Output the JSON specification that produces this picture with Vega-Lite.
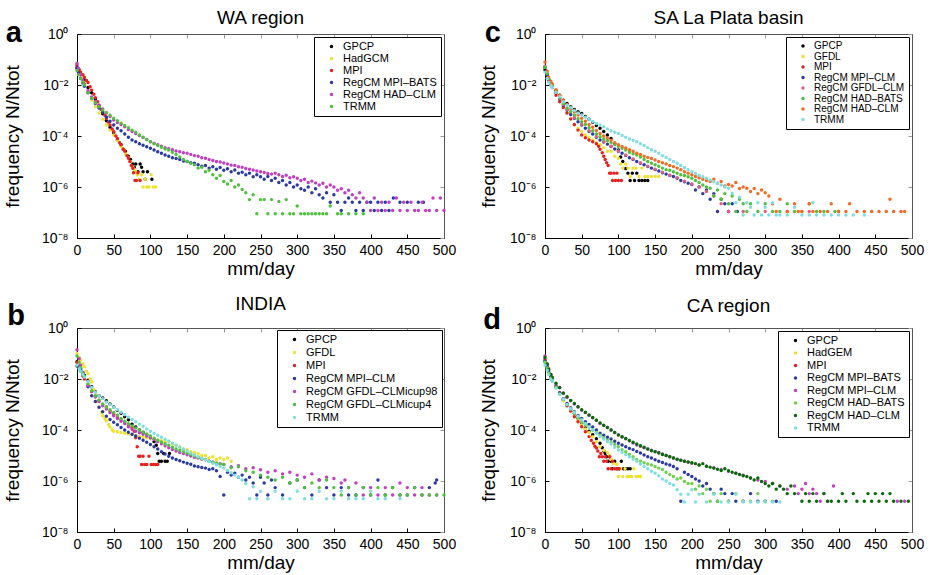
{
"$schema": "https://vega.github.io/schema/vega-lite/v6.json",
"background": "white",
"padding": {"left": 3, "top": 8, "right": 3, "bottom": 2},
"columns": 2,
"spacing": {"row": 16, "column": 23},
"resolve": {"scale": {"color": "independent"}},
"config": {
  "font": "Liberation Sans",
  "view": {"stroke": null},
  "axis": {"labelFont": "Liberation Sans", "titleFont": "Liberation Sans", "labelFontSize": 14, "titleFontSize": 19, "titleFontWeight": "normal", "labelColor": "#000", "titleColor": "#000", "domainColor": "#000", "tickColor": "#000", "tickSize": -4, "grid": false, "labelFlush": false},
  "axisX": {"labelPadding": 9, "titlePadding": 2},
  "axisY": {"labelPadding": 13},
  "text": {"font": "Liberation Sans", "color": "#000"},
  "legend": {"labelFont": "Liberation Sans", "labelFontSize": 11, "labelColor": "#000", "strokeColor": "#000", "fillColor": "#fff", "padding": 4, "symbolType": "circle", "symbolSize": 12, "symbolStrokeWidth": 0, "labelOffset": 6, "rowPadding": 0, "offset": 3, "symbolOffset": 8, "orient": "top-right", "title": null}
},
"concat": [
{
 "width": 367, "height": 204,
 "data": {"values": "s,x,y\nG,0,4.5e-2\nG,2,3.5e-2\nG,5,2.5e-2\nG,10,1.6e-2\nG,15,8e-3\nG,20,5e-3\nG,25,2.8e-3\nG,30,1.5e-3\nG,35,7.5e-4\nG,40,4e-4\nG,45,2.2e-4\nG,50,1.3e-4\nG,55,7e-5\nG,60,4.5e-5\nG,63,3e-5\nG,66,2.5e-5\nG,70,1.6e-5\nG,73,1.2e-5\nG,76,8e-6\nG,78,6e-6\nG,80,8e-6\nG,83,4e-6\nG,86,8e-6\nG,88,6e-6\nG,90,4e-6\nG,93,2e-6\nG,96,4e-6\nG,102,2e-6\nH,0,7e-2\nH,3,4e-2\nH,6,2.5e-2\nH,10,1.2e-2\nH,15,5.5e-3\nH,20,2.6e-3\nH,25,1.4e-3\nH,30,8e-4\nH,35,4.5e-4\nH,40,2.7e-4\nH,45,1.7e-4\nH,50,1.1e-4\nH,55,6.5e-5\nH,60,4e-5\nH,63,3e-5\nH,66,2e-5\nH,70,1.4e-5\nH,73,1e-5\nH,76,6e-6\nH,78,5e-6\nH,80,4e-6\nH,82,3e-6\nH,85,2e-6\nH,88,3e-6\nH,90,1e-6\nH,93,2e-6\nH,95,1e-6\nH,98,1e-6\nH,101,3e-6\nH,104,1e-6\nH,107,1e-6\nM,0,6e-2\nM,3,4e-2\nM,5,3.2e-2\nM,8,2.5e-2\nM,10,2e-2\nM,13,1.5e-2\nM,15,1.25e-2\nM,18,8.5e-3\nM,20,6.3e-3\nM,23,4.3e-3\nM,25,3.2e-3\nM,28,2.2e-3\nM,30,1.6e-3\nM,33,1.1e-3\nM,35,9e-4\nM,38,6.5e-4\nM,40,5e-4\nM,43,3.5e-4\nM,45,2.7e-4\nM,48,1.9e-4\nM,50,1.5e-4\nM,53,1e-4\nM,55,8e-5\nM,58,5.5e-5\nM,60,4.5e-5\nM,63,3e-5\nM,65,2.5e-5\nM,68,1.7e-5\nM,70,1.35e-5\nM,72,1e-5\nM,74,7e-6\nM,76,5.4e-6\nM,77,3.6e-6\nM,79,1.8e-6\nM,81,1.8e-6\nM,83,3.6e-6\nM,86,1.8e-6\nB,0,5e-2\nB,2,3e-2\nB,5,1.8e-2\nB,8,1.2e-2\nB,10,9e-3\nB,15,5e-3\nB,20,3e-3\nB,25,1.9e-3\nB,30,1.25e-3\nB,35,8.5e-4\nB,40,5.6e-4\nB,45,3.8e-4\nB,50,2.7e-4\nB,55,2e-4\nB,60,1.6e-4\nB,65,1.2e-4\nB,70,9e-5\nB,75,7e-5\nB,80,6e-5\nB,85,5e-5\nB,90,4.3e-5\nB,95,3.8e-5\nB,100,3.3e-5\nB,105,2.8e-5\nB,110,2.4e-5\nB,115,2.1e-5\nB,120,1.8e-5\nB,125,1.6e-5\nB,130,1.4e-5\nB,135,1.3e-5\nB,140,1.2e-5\nB,145,1.05e-5\nB,150,1e-5\nB,155,9e-6\nB,160,8.5e-6\nB,165,7.5e-6\nB,170,6.5e-6\nB,175,7e-6\nB,180,5.5e-6\nB,185,6.2e-6\nB,190,5e-6\nB,195,5.8e-6\nB,200,4.5e-6\nB,205,5.2e-6\nB,210,4e-6\nB,215,4.6e-6\nB,220,3.5e-6\nB,225,3.8e-6\nB,230,3e-6\nB,235,3.5e-6\nB,240,2.5e-6\nB,245,3e-6\nB,250,2.5e-6\nB,255,2e-6\nB,260,2.6e-6\nB,265,1.8e-6\nB,270,2.2e-6\nB,275,1.5e-6\nB,280,1.8e-6\nB,285,1.2e-6\nB,290,1.5e-6\nB,295,1e-6\nB,300,1.2e-6\nB,305,8.6e-7\nB,310,7.4e-7\nB,315,1e-6\nB,320,6e-7\nB,325,8.6e-7\nB,330,5e-7\nB,335,3.7e-7\nB,340,6e-7\nB,345,2.5e-7\nB,350,5e-7\nB,355,2.5e-7\nB,360,1.2e-7\nB,365,2.5e-7\nB,370,3.7e-7\nB,375,2.5e-7\nB,380,1.2e-7\nB,385,2.5e-7\nB,390,1.2e-7\nB,395,2.5e-7\nB,400,2.5e-7\nB,405,1.2e-7\nB,410,2.5e-7\nB,415,1.2e-7\nB,420,2.5e-7\nB,425,1.2e-7\nB,431,3.7e-7\nB,440,2.5e-7\nB,450,2.5e-7\nB,465,2.5e-7\nB,472,2.5e-7\nC,0,7e-2\nC,2,4.5e-2\nC,5,2.5e-2\nC,8,1.5e-2\nC,10,1.1e-2\nC,15,6e-3\nC,20,3.4e-3\nC,25,2.3e-3\nC,30,1.6e-3\nC,35,1.15e-3\nC,40,8e-4\nC,45,5.8e-4\nC,50,4.2e-4\nC,55,3.4e-4\nC,60,2.8e-4\nC,65,2.3e-4\nC,70,1.8e-4\nC,75,1.5e-4\nC,80,1.25e-4\nC,85,1.05e-4\nC,90,8.7e-5\nC,95,7.3e-5\nC,100,6e-5\nC,105,5.2e-5\nC,110,4.5e-5\nC,115,4e-5\nC,120,3.5e-5\nC,125,3.2e-5\nC,130,2.9e-5\nC,135,2.6e-5\nC,140,2.4e-5\nC,145,2.2e-5\nC,150,2.1e-5\nC,155,1.9e-5\nC,160,1.7e-5\nC,165,1.6e-5\nC,170,1.4e-5\nC,175,1.35e-5\nC,180,1.2e-5\nC,185,1.1e-5\nC,190,1e-5\nC,195,9.5e-6\nC,200,8.7e-6\nC,205,8e-6\nC,210,7.2e-6\nC,215,7e-6\nC,220,6.2e-6\nC,225,5.9e-6\nC,230,5.3e-6\nC,235,5e-6\nC,240,4.6e-6\nC,245,4.2e-6\nC,250,4e-6\nC,255,3.7e-6\nC,260,3.4e-6\nC,265,3.2e-6\nC,270,3.5e-6\nC,275,3e-6\nC,280,2.6e-6\nC,285,2.9e-6\nC,290,2.3e-6\nC,295,2.5e-6\nC,300,2.2e-6\nC,305,1.8e-6\nC,310,2e-6\nC,315,1.5e-6\nC,320,1.7e-6\nC,325,1.45e-6\nC,330,1.2e-6\nC,335,1.4e-6\nC,340,1e-6\nC,345,1.2e-6\nC,350,1e-6\nC,355,7.4e-7\nC,360,8.6e-7\nC,365,6e-7\nC,370,7.4e-7\nC,375,5e-7\nC,380,3.7e-7\nC,385,6e-7\nC,390,3.7e-7\nC,395,2.5e-7\nC,400,1.2e-7\nC,405,3.7e-7\nC,410,1.2e-7\nC,415,2.5e-7\nC,420,1.2e-7\nC,425,2.5e-7\nC,430,1.2e-7\nC,435,3.7e-7\nC,440,1.2e-7\nC,445,2.5e-7\nC,450,1.2e-7\nC,455,2.5e-7\nC,460,1.2e-7\nC,465,1.2e-7\nC,470,2.5e-7\nC,475,1.2e-7\nC,480,1.2e-7\nC,485,3.7e-7\nC,490,1.2e-7\nC,495,3.7e-7\nC,500,1.2e-7\nT,0,3.7e-2\nT,2,2.5e-2\nT,5,1.8e-2\nT,8,1.3e-2\nT,10,1e-2\nT,15,5e-3\nT,20,3e-3\nT,25,2e-3\nT,30,1.4e-3\nT,35,1.05e-3\nT,40,8.3e-4\nT,45,6.5e-4\nT,50,5e-4\nT,55,4e-4\nT,60,3.2e-4\nT,65,2.6e-4\nT,70,2.1e-4\nT,75,1.7e-4\nT,80,1.4e-4\nT,85,1.1e-4\nT,90,9e-5\nT,95,7.3e-5\nT,100,6e-5\nT,105,5e-5\nT,110,4.2e-5\nT,115,3.6e-5\nT,120,3.1e-5\nT,125,2.8e-5\nT,130,2.3e-5\nT,135,1.9e-5\nT,140,1.5e-5\nT,145,1.2e-5\nT,150,1e-5\nT,155,8.5e-6\nT,160,7.5e-6\nT,165,5.5e-6\nT,170,6e-6\nT,175,4e-6\nT,180,4.5e-6\nT,185,3e-6\nT,190,2.2e-6\nT,195,2.8e-6\nT,200,1.65e-6\nT,205,1.3e-6\nT,210,1.8e-6\nT,215,1e-6\nT,220,1.2e-6\nT,225,8e-7\nT,230,6e-7\nT,235,3.2e-7\nT,240,5e-7\nT,245,9e-8\nT,250,3.2e-7\nT,255,3.2e-7\nT,260,9e-8\nT,265,3.2e-7\nT,270,9e-8\nT,275,2.7e-7\nT,280,9e-8\nT,285,3.2e-7\nT,290,9e-8\nT,295,9e-8\nT,300,1.8e-7\nT,305,9e-8\nT,310,9e-8\nT,315,9e-8\nT,320,9e-8\nT,325,9e-8\nT,330,9e-8\nT,335,9e-8\nT,340,9e-8\nT,345,1.8e-7\nT,355,9e-8\nT,360,9e-8\nT,370,9e-8\nT,380,9e-8\nT,390,9e-8", "format": {"type": "csv", "parse": {"x": "number", "y": "number"}}},
 "layer": [
  {"transform": [{"lookup": "s", "from": {"data": {"values": [{"s": "G", "n": "GPCP"}, {"s": "H", "n": "HadGCM"}, {"s": "M", "n": "MPI"}, {"s": "B", "n": "RegCM MPI–BATS"}, {"s": "C", "n": "RegCM HAD–CLM"}, {"s": "T", "n": "TRMM"}]}, "key": "s", "fields": ["n"]}}],
   "mark": {"type": "circle", "size": 12, "opacity": 1},
   "encoding": {
    "x": {"field": "x", "type": "quantitative", "scale": {"domain": [0, 500], "nice": false}, "axis": {"values": [0,50,100,150,200,250,300,350,400,450,500], "title": "mm/day"}},
    "y": {"field": "y", "type": "quantitative", "scale": {"type": "log", "domain": [1e-8, 1], "nice": false}, "axis": {"values": [1, 0.01, 0.0001, 0.000001, 0.00000001], "labelExpr": "datum.value >= 0.5 ? '10⁰' : datum.value >= 0.005 ? '10⁻²' : datum.value >= 0.00005 ? '10⁻⁴' : datum.value >= 0.0000005 ? '10⁻⁶' : '10⁻⁸'", "title": "frequency N/Ntot", "titlePadding": 19}},
    "color": {"field": "n", "type": "nominal", "scale": {"domain": ["GPCP", "HadGCM", "MPI", "RegCM MPI–BATS", "RegCM HAD–CLM", "TRMM"], "range": ["#000000", "#f0e030", "#e82020", "#2a3aa0", "#c040c0", "#50c040"]}, "legend": {"rowPadding": 0}}
   }},
  {"transform": [{"filter": "datum.x == 0"}],
   "mark": {"type": "point", "opacity": 0},
   "encoding": {
    "x": {"field": "x", "type": "quantitative", "axis": {"orient": "top", "labels": false, "title": null, "values": [0,50,100,150,200,250,300,350,400,450,500], "domainColor": "#555", "tickColor": "#999"}},
    "y": {"field": "y", "type": "quantitative", "axis": {"orient": "right", "labels": false, "title": null, "values": [1, 0.01, 0.0001, 0.000001, 0.00000001], "domainColor": "#555", "tickColor": "#999"}}
   }},
  {"data": {"values": [{"t": "a"}]},
   "mark": {"type": "text", "fontSize": 29, "fontWeight": "bold", "align": "center", "baseline": "alphabetic"},
   "encoding": {"text": {"field": "t"}, "x": {"datum": -86, "axis": null}, "y": {"datum": 0.49, "axis": null}}},
  {"data": {"values": [{"t": "WA region"}]},
   "mark": {"type": "text", "fontSize": 19, "align": "center", "baseline": "alphabetic"},
   "encoding": {"text": {"field": "t"}, "x": {"datum": 250, "axis": null}, "y": {"datum": 2.47, "axis": null}}}
 ],
 "resolve": {"axis": {"x": "independent", "y": "independent"}}
},
{
 "width": 367, "height": 204,
 "data": {"values": "s,x,y\nG,0,4e-2\nG,3,2.4e-2\nG,5,1.6e-2\nG,8,1.1e-2\nG,10,9e-3\nG,15,6e-3\nG,20,4e-3\nG,25,2.5e-3\nG,30,1.9e-3\nG,35,1.4e-3\nG,40,1.1e-3\nG,45,9e-4\nG,50,7.6e-4\nG,55,5.8e-4\nG,60,4.5e-4\nG,65,3.5e-4\nG,70,2.6e-4\nG,75,2e-4\nG,80,1.5e-4\nG,85,1.1e-4\nG,90,8e-5\nG,95,5e-5\nG,100,2.8e-5\nG,103,1.5e-5\nG,106,1e-5\nG,110,5.3e-6\nG,113,3.5e-6\nG,116,1.8e-6\nG,119,3.5e-6\nG,122,1.8e-6\nG,125,3.5e-6\nG,128,1.8e-6\nG,132,1.8e-6\nG,136,1.8e-6\nG,140,1.8e-6\nF,0,5e-2\nF,3,2.6e-2\nF,5,1.6e-2\nF,8,1.1e-2\nF,10,8e-3\nF,15,4.5e-3\nF,20,2.5e-3\nF,25,1.4e-3\nF,30,8e-4\nF,35,4.5e-4\nF,40,2.7e-4\nF,45,2e-4\nF,50,1.5e-4\nF,55,1.1e-4\nF,60,9e-5\nF,65,7e-5\nF,70,5.5e-5\nF,75,4.5e-5\nF,80,3.5e-5\nF,85,2.5e-5\nF,90,2.5e-5\nF,95,1.6e-5\nF,100,1.35e-5\nF,103,8e-6\nF,106,5.5e-6\nF,110,8e-6\nF,113,5.5e-6\nF,116,2.6e-6\nF,120,5.5e-6\nF,124,5.5e-6\nF,128,2.6e-6\nF,132,5.5e-6\nF,136,2.6e-6\nF,140,2.6e-6\nF,145,2.6e-6\nF,150,2.6e-6\nF,155,2.6e-6\nM,0,5e-2\nM,3,2.5e-2\nM,5,1.5e-2\nM,8,1e-2\nM,10,8e-3\nM,15,4e-3\nM,20,2.2e-3\nM,25,1.3e-3\nM,30,8e-4\nM,35,4.7e-4\nM,40,2.8e-4\nM,45,1.7e-4\nM,50,1.1e-4\nM,55,8.5e-5\nM,60,7e-5\nM,65,6e-5\nM,70,5e-5\nM,73,4e-5\nM,75,3e-5\nM,78,2.2e-5\nM,80,1.6e-5\nM,82,1.2e-5\nM,84,9e-6\nM,86,7e-6\nM,88,3.5e-6\nM,90,3.5e-6\nM,92,1.8e-6\nM,94,3.5e-6\nM,96,1.8e-6\nM,98,3.5e-6\nM,100,1.8e-6\nM,104,1.8e-6\nB,0,5e-2\nB,3,2.6e-2\nB,5,1.6e-2\nB,8,1.1e-2\nB,10,9e-3\nB,15,5e-3\nB,20,2.8e-3\nB,25,1.6e-3\nB,30,1.05e-3\nB,35,7e-4\nB,40,5e-4\nB,45,3.6e-4\nB,50,2.7e-4\nB,55,2e-4\nB,60,1.5e-4\nB,65,1.2e-4\nB,70,9e-5\nB,75,7e-5\nB,80,5.8e-5\nB,85,4.8e-5\nB,90,3.9e-5\nB,95,3.1e-5\nB,100,2.5e-5\nB,105,2.1e-5\nB,110,1.7e-5\nB,115,1.4e-5\nB,120,1.2e-5\nB,125,1e-5\nB,130,8.5e-6\nB,135,7.5e-6\nB,140,6.3e-6\nB,145,5.5e-6\nB,150,4.8e-6\nB,155,4.2e-6\nB,160,3.6e-6\nB,165,3.2e-6\nB,170,2.8e-6\nB,175,2.6e-6\nB,180,2.2e-6\nB,185,1.8e-6\nB,190,1.6e-6\nB,195,1.4e-6\nB,200,1.26e-6\nB,205,7.7e-7\nB,210,1e-6\nB,215,5.5e-7\nB,220,7.7e-7\nB,225,3.3e-7\nB,230,5.5e-7\nB,235,1.1e-7\nB,240,3.3e-7\nB,245,2.2e-7\nB,250,1.1e-7\nB,255,2.2e-7\nB,262,1.1e-7\nL,0,5.5e-2\nL,5,1.7e-2\nL,10,9.5e-3\nL,15,5.2e-3\nL,20,3e-3\nL,25,1.7e-3\nL,30,1.1e-3\nL,40,5.3e-4\nL,50,2.9e-4\nL,60,1.6e-4\nL,70,9.5e-5\nL,80,6e-5\nL,90,4e-5\nL,100,2.6e-5\nL,110,1.8e-5\nL,120,1.25e-5\nL,130,9e-6\nL,140,6.5e-6\nL,150,5e-6\nL,160,3.8e-6\nL,170,2.9e-6\nL,180,2.3e-6\nL,190,1.7e-6\nL,200,1.3e-6\nL,210,1e-6\nL,220,6.6e-7\nL,230,4.4e-7\nL,240,2.2e-7\nL,250,1.1e-7\nL,270,1.1e-7\nL,300,1.1e-7\nL,330,1.1e-7\nL,360,1.1e-7\nL,400,1.1e-7\nA,0,5e-2\nA,3,2.8e-2\nA,5,1.8e-2\nA,8,1.2e-2\nA,10,1e-2\nA,15,5.6e-3\nA,20,3.2e-3\nA,25,1.9e-3\nA,30,1.26e-3\nA,35,9e-4\nA,40,6.6e-4\nA,45,4.8e-4\nA,50,3.6e-4\nA,55,2.8e-4\nA,60,2.1e-4\nA,65,1.6e-4\nA,70,1.2e-4\nA,75,9.3e-5\nA,80,7.7e-5\nA,85,6.5e-5\nA,90,5.5e-5\nA,95,4.6e-5\nA,100,4e-5\nA,105,3.3e-5\nA,110,2.8e-5\nA,115,2.3e-5\nA,120,2e-5\nA,125,1.8e-5\nA,130,1.5e-5\nA,135,1.2e-5\nA,140,1e-5\nA,145,8.5e-6\nA,150,7.4e-6\nA,155,6.5e-6\nA,160,5.5e-6\nA,165,4.8e-6\nA,170,4.5e-6\nA,175,4e-6\nA,180,3.5e-6\nA,185,3e-6\nA,190,2.8e-6\nA,195,2.5e-6\nA,200,2.2e-6\nA,205,1.8e-6\nA,210,1.5e-6\nA,215,1.2e-6\nA,220,1e-6\nA,225,9e-7\nA,230,4.4e-7\nA,235,7.7e-7\nA,240,3.3e-7\nA,245,5.5e-7\nA,250,2.2e-7\nA,255,4.4e-7\nA,260,1.1e-7\nA,265,3.3e-7\nA,270,2.2e-7\nA,275,1.1e-7\nA,280,2.2e-7\nA,290,1.1e-7\nA,300,2.2e-7\nA,310,1.1e-7\nA,320,1.1e-7\nA,330,2.2e-7\nA,340,1.1e-7\nA,350,1.1e-7\nA,360,2.2e-7\nA,370,1.1e-7\nA,380,1.1e-7\nA,395,1.1e-7\nC,0,8e-2\nC,3,3.5e-2\nC,5,2e-2\nC,8,1.4e-2\nC,10,1.1e-2\nC,15,6.5e-3\nC,20,4e-3\nC,25,2.5e-3\nC,30,1.7e-3\nC,35,1.2e-3\nC,40,9e-4\nC,45,6.7e-4\nC,50,5e-4\nC,55,3.8e-4\nC,60,2.8e-4\nC,65,2.2e-4\nC,70,1.65e-4\nC,75,1.26e-4\nC,80,1e-4\nC,85,8.3e-5\nC,90,6.8e-5\nC,95,5.5e-5\nC,100,4.5e-5\nC,105,3.9e-5\nC,110,3.4e-5\nC,115,2.9e-5\nC,120,2.5e-5\nC,125,2.1e-5\nC,130,1.9e-5\nC,135,1.6e-5\nC,140,1.45e-5\nC,145,1.3e-5\nC,150,1.15e-5\nC,155,1e-5\nC,160,9e-6\nC,165,8e-6\nC,170,7e-6\nC,175,6.3e-6\nC,180,5.5e-6\nC,185,4.8e-6\nC,190,4e-6\nC,195,3.5e-6\nC,200,3e-6\nC,205,2.6e-6\nC,210,2.3e-6\nC,215,2e-6\nC,220,1.8e-6\nC,225,1.65e-6\nC,230,2e-6\nC,235,1.4e-6\nC,240,1.65e-6\nC,245,1.1e-6\nC,250,1.26e-6\nC,255,1.1e-6\nC,260,1.5e-6\nC,265,8.8e-7\nC,270,1e-6\nC,275,9e-7\nC,280,6.6e-7\nC,285,8.8e-7\nC,290,5.5e-7\nC,295,7.7e-7\nC,300,5.9e-7\nC,305,4.4e-7\nC,310,2.2e-7\nC,315,1.1e-7\nC,320,3.3e-7\nC,330,1.1e-7\nC,340,2.2e-7\nC,345,1.1e-7\nC,350,1.1e-7\nC,360,2.2e-7\nC,365,1.1e-7\nC,375,1.1e-7\nC,385,1.1e-7\nC,390,2.2e-7\nC,400,1.1e-7\nC,410,1.1e-7\nC,415,2.2e-7\nC,425,1.1e-7\nC,435,1.1e-7\nC,445,1.1e-7\nC,455,1.1e-7\nC,465,1.1e-7\nC,470,3.3e-7\nC,475,1.1e-7\nC,485,1.1e-7\nC,490,1.1e-7\nT,0,3.2e-2\nT,3,1.8e-2\nT,5,1.25e-2\nT,8,9.5e-3\nT,10,8e-3\nT,15,5.2e-3\nT,20,3.5e-3\nT,25,2.2e-3\nT,30,1.6e-3\nT,35,1.3e-3\nT,40,1e-3\nT,45,8e-4\nT,50,6.6e-4\nT,55,5.5e-4\nT,60,4.5e-4\nT,65,3.7e-4\nT,70,3.1e-4\nT,75,2.7e-4\nT,80,2.3e-4\nT,85,1.9e-4\nT,90,1.6e-4\nT,95,1.4e-4\nT,100,1.26e-4\nT,105,1.05e-4\nT,110,9e-5\nT,115,7.7e-5\nT,120,6.8e-5\nT,125,6e-5\nT,130,5e-5\nT,135,4.2e-5\nT,140,3.5e-5\nT,145,2.9e-5\nT,150,2.5e-5\nT,155,2.1e-5\nT,160,1.7e-5\nT,165,1.45e-5\nT,170,1.2e-5\nT,175,1e-5\nT,180,8.5e-6\nT,185,7e-6\nT,190,5.8e-6\nT,195,4.8e-6\nT,200,4e-6\nT,205,3.4e-6\nT,210,2.9e-6\nT,215,2.5e-6\nT,220,2.2e-6\nT,225,1.9e-6\nT,230,1.6e-6\nT,235,1.4e-6\nT,240,1.2e-6\nT,245,1e-6\nT,250,9e-7\nT,255,5.6e-7\nT,260,2.4e-7\nT,265,4e-7\nT,270,8e-8\nT,275,2.4e-7\nT,280,1.6e-7\nT,285,8e-8\nT,290,2.4e-7\nT,295,8e-8\nT,300,1.6e-7\nT,305,8e-8\nT,310,2.4e-7\nT,315,8e-8\nT,320,8e-8\nT,330,8e-8\nT,340,1.6e-7\nT,350,8e-8\nT,360,8e-8\nT,365,2.4e-7\nT,370,8e-8\nT,380,8e-8\nT,390,8e-8\nT,400,8e-8\nT,410,8e-8\nT,420,8e-8\nT,435,8e-8", "format": {"type": "csv", "parse": {"x": "number", "y": "number"}}},
 "layer": [
  {"transform": [{"lookup": "s", "from": {"data": {"values": [{"s": "G", "n": "GPCP"}, {"s": "F", "n": "GFDL"}, {"s": "M", "n": "MPI"}, {"s": "B", "n": "RegCM MPI–CLM"}, {"s": "L", "n": "RegCM GFDL–CLM"}, {"s": "A", "n": "RegCM HAD–BATS"}, {"s": "C", "n": "RegCM HAD–CLM"}, {"s": "T", "n": "TRMM"}]}, "key": "s", "fields": ["n"]}}],
   "mark": {"type": "circle", "size": 12, "opacity": 1},
   "encoding": {
    "x": {"field": "x", "type": "quantitative", "scale": {"domain": [0, 500], "nice": false}, "axis": {"values": [0,50,100,150,200,250,300,350,400,450,500], "title": "mm/day"}},
    "y": {"field": "y", "type": "quantitative", "scale": {"type": "log", "domain": [1e-8, 1], "nice": false}, "axis": {"values": [1, 0.01, 0.0001, 0.000001, 0.00000001], "labelExpr": "datum.value >= 0.5 ? '10⁰' : datum.value >= 0.005 ? '10⁻²' : datum.value >= 0.00005 ? '10⁻⁴' : datum.value >= 0.0000005 ? '10⁻⁶' : '10⁻⁸'", "title": "frequency N/Ntot", "titlePadding": 11}},
    "color": {"field": "n", "type": "nominal", "scale": {"domain": ["GPCP", "GFDL", "MPI", "RegCM MPI–CLM", "RegCM GFDL–CLM", "RegCM HAD–BATS", "RegCM HAD–CLM", "TRMM"], "range": ["#000000", "#f0e030", "#e82020", "#2a3aa0", "#e06080", "#50c040", "#f36a22", "#80dede"]}, "legend": {"labelFontSize": 10, "rowPadding": 0.5}}
   }},
  {"transform": [{"filter": "datum.x == 0"}],
   "mark": {"type": "point", "opacity": 0},
   "encoding": {
    "x": {"field": "x", "type": "quantitative", "axis": {"orient": "top", "labels": false, "title": null, "values": [0,50,100,150,200,250,300,350,400,450,500], "domainColor": "#555", "tickColor": "#999"}},
    "y": {"field": "y", "type": "quantitative", "axis": {"orient": "right", "labels": false, "title": null, "values": [1, 0.01, 0.0001, 0.000001, 0.00000001], "domainColor": "#555", "tickColor": "#999"}}
   }},
  {"data": {"values": [{"t": "c"}]},
   "mark": {"type": "text", "fontSize": 29, "fontWeight": "bold", "align": "center", "baseline": "alphabetic"},
   "encoding": {"text": {"field": "t"}, "x": {"datum": -71, "axis": null}, "y": {"datum": 0.49, "axis": null}}},
  {"data": {"values": [{"t": "SA La Plata basin"}]},
   "mark": {"type": "text", "fontSize": 19, "align": "center", "baseline": "alphabetic"},
   "encoding": {"text": {"field": "t"}, "x": {"datum": 250, "axis": null}, "y": {"datum": 2.47, "axis": null}}}
 ],
 "resolve": {"axis": {"x": "independent", "y": "independent"}}
},
{
 "width": 367, "height": 204,
 "data": {"values": "s,x,y\nG,0,4.8e-2\nG,3,3.2e-2\nG,5,2.5e-2\nG,8,1.8e-2\nG,10,1.4e-2\nG,15,8.9e-3\nG,20,5e-3\nG,25,3.2e-3\nG,30,2.2e-3\nG,35,1.8e-3\nG,40,1.4e-3\nG,45,1.05e-3\nG,50,8e-4\nG,55,6e-4\nG,60,4.5e-4\nG,65,3.3e-4\nG,70,2.5e-4\nG,75,1.7e-4\nG,80,1.3e-4\nG,85,1e-4\nG,90,8e-5\nG,95,6.3e-5\nG,100,5e-5\nG,105,3.5e-5\nG,108,2.5e-5\nG,110,1.2e-5\nG,112,5.9e-6\nG,115,5.9e-6\nG,118,1.2e-5\nG,120,5.9e-6\nG,123,5.9e-6\nG,126,1.2e-5\nF,0,1e-1\nF,3,7e-2\nF,5,5.5e-2\nF,8,4e-2\nF,10,3e-2\nF,13,2e-2\nF,15,1.6e-2\nF,18,1e-2\nF,20,7.6e-3\nF,23,4e-3\nF,25,2.6e-3\nF,28,1.3e-3\nF,30,8e-4\nF,33,5e-4\nF,35,3.6e-4\nF,38,2.8e-4\nF,40,2.3e-4\nF,43,1.6e-4\nF,45,1.3e-4\nF,48,1e-4\nF,50,9e-5\nF,55,8.5e-5\nF,60,8e-5\nF,65,7.5e-5\nF,70,7e-5\nF,75,6.5e-5\nF,80,6e-5\nF,85,5.5e-5\nF,90,5.2e-5\nF,95,5e-5\nF,100,4.8e-5\nF,105,4.2e-5\nF,110,4e-5\nF,115,3.8e-5\nF,120,3.5e-5\nF,125,3.6e-5\nF,130,2.8e-5\nF,135,2.5e-5\nF,140,2.2e-5\nF,145,1.8e-5\nF,150,1.7e-5\nF,155,1.4e-5\nF,160,1.3e-5\nF,165,1.2e-5\nF,170,1e-5\nF,175,1e-5\nF,180,8e-6\nF,185,9e-6\nF,190,7e-6\nF,195,8e-6\nF,200,7e-6\nF,205,8e-6\nF,210,6e-6\nM,0,4.5e-2\nM,3,2.8e-2\nM,5,2e-2\nM,8,1.3e-2\nM,10,1e-2\nM,15,5.6e-3\nM,20,3.2e-3\nM,25,2e-3\nM,30,1.4e-3\nM,35,1e-3\nM,40,8e-4\nM,45,5.6e-4\nM,50,4.2e-4\nM,55,3.2e-4\nM,60,2.6e-4\nM,65,2e-4\nM,70,1.6e-4\nM,75,1.25e-4\nM,78,9e-5\nM,80,5e-5\nM,82,2.2e-5\nM,84,9.3e-6\nM,86,9.3e-6\nM,88,4.4e-6\nM,90,9.3e-6\nM,92,4.4e-6\nM,95,4.4e-6\nM,98,9.3e-6\nM,101,4.4e-6\nM,104,4.4e-6\nM,107,4.4e-6\nM,110,4.4e-6\nB,0,3.2e-2\nB,3,2.5e-2\nB,5,2.2e-2\nB,8,1.5e-2\nB,10,1.2e-2\nB,15,5e-3\nB,20,2.2e-3\nB,25,1.3e-3\nB,30,7.8e-4\nB,35,5.2e-4\nB,40,3.5e-4\nB,45,2.6e-4\nB,50,2e-4\nB,55,1.6e-4\nB,60,1.25e-4\nB,65,1e-4\nB,70,8.2e-5\nB,75,6.8e-5\nB,80,5.8e-5\nB,85,4.8e-5\nB,90,4e-5\nB,95,3.3e-5\nB,100,2.7e-5\nB,105,2.2e-5\nB,110,1.8e-5\nB,115,1.4e-5\nB,120,1.15e-5\nB,125,9.3e-6\nB,130,8e-6\nB,135,7e-6\nB,140,6.2e-6\nB,145,5.5e-6\nB,150,5e-6\nB,155,4.5e-6\nB,160,3.9e-6\nB,165,3.6e-6\nB,170,3.4e-6\nB,175,3.2e-6\nB,180,2.8e-6\nB,185,3e-6\nB,190,2.5e-6\nB,195,1.5e-6\nB,200,2.8e-7\nB,205,2.2e-6\nB,210,1.7e-6\nB,215,2e-6\nB,220,1.4e-6\nB,225,1.7e-6\nB,230,1.1e-6\nB,235,1.4e-6\nB,240,8.3e-7\nB,245,2.8e-7\nB,250,1.4e-6\nB,255,8.3e-7\nB,260,2.8e-7\nB,265,1.1e-6\nB,270,5.5e-7\nB,280,2.8e-7\nB,290,8.3e-7\nB,300,1.1e-6\nB,310,5.5e-7\nB,320,2.8e-7\nB,330,1.1e-6\nB,340,5.5e-7\nB,350,2.8e-7\nB,360,5.5e-7\nB,370,2.8e-7\nB,380,2.8e-7\nB,390,5.5e-7\nB,400,2.8e-7\nB,410,1.1e-6\nB,420,2.8e-7\nB,430,5.5e-7\nB,440,2.8e-7\nB,450,2.8e-7\nB,460,5.5e-7\nB,470,2.8e-7\nB,480,5.5e-7\nB,488,8.3e-7\nB,490,1.1e-6\nP,0,1.4e-1\nP,3,6.3e-2\nP,5,3.5e-2\nP,8,1.8e-2\nP,10,1.2e-2\nP,15,5.6e-3\nP,20,3.2e-3\nP,25,2e-3\nP,30,1.3e-3\nP,35,9e-4\nP,40,6.6e-4\nP,45,4.8e-4\nP,50,3.6e-4\nP,55,2.8e-4\nP,60,2.2e-4\nP,65,1.8e-4\nP,70,1.35e-4\nP,75,1.07e-4\nP,80,9e-5\nP,85,7.8e-5\nP,90,6.8e-5\nP,95,5.8e-5\nP,100,5e-5\nP,105,4.2e-5\nP,110,3.5e-5\nP,115,2.9e-5\nP,120,2.4e-5\nP,125,2e-5\nP,130,1.7e-5\nP,135,1.5e-5\nP,140,1.3e-5\nP,145,1.2e-5\nP,150,1.07e-5\nP,155,9.5e-6\nP,160,8.5e-6\nP,165,8e-6\nP,170,7.2e-6\nP,175,6.8e-6\nP,180,6e-6\nP,185,5.5e-6\nP,190,5e-6\nP,195,4.8e-6\nP,200,4.4e-6\nP,210,3.6e-6\nP,220,4e-6\nP,230,3e-6\nP,240,3.3e-6\nP,250,2.75e-6\nP,260,2.2e-6\nP,270,2.5e-6\nP,280,1.9e-6\nP,290,2.2e-6\nP,300,1.7e-6\nP,310,1.4e-6\nP,320,1.9e-6\nP,330,1.1e-6\nP,340,1.4e-6\nP,350,1.25e-6\nP,360,8.3e-7\nP,365,1.1e-6\nP,370,5.5e-7\nP,380,8.3e-7\nP,390,2.8e-7\nP,400,5.5e-7\nP,410,2.8e-7\nP,420,5.5e-7\nP,430,2.8e-7\nP,440,8.3e-7\nP,450,5.5e-7\nP,460,2.8e-7\nP,470,5.5e-7\nP,480,2.8e-7\nP,490,2.8e-7\nQ,0,8e-2\nQ,3,4.5e-2\nQ,5,2.8e-2\nQ,8,1.7e-2\nQ,10,1.25e-2\nQ,15,6.5e-3\nQ,20,3.5e-3\nQ,25,2.2e-3\nQ,30,1.5e-3\nQ,35,1.05e-3\nQ,40,8e-4\nQ,45,6.2e-4\nQ,50,4.9e-4\nQ,55,3.8e-4\nQ,60,2.8e-4\nQ,65,2.2e-4\nQ,70,1.75e-4\nQ,75,1.45e-4\nQ,80,1.2e-4\nQ,85,1e-4\nQ,90,8.3e-5\nQ,95,7e-5\nQ,100,5.8e-5\nQ,105,4.8e-5\nQ,110,4e-5\nQ,115,3.4e-5\nQ,120,2.9e-5\nQ,125,2.5e-5\nQ,130,2.1e-5\nQ,135,1.8e-5\nQ,140,1.6e-5\nQ,145,1.4e-5\nQ,150,1.26e-5\nQ,155,1.1e-5\nQ,160,9.5e-6\nQ,165,8.5e-6\nQ,170,7.7e-6\nQ,175,7e-6\nQ,180,6e-6\nQ,185,5.4e-6\nQ,190,5e-6\nQ,195,4.6e-6\nQ,200,4.4e-6\nQ,210,3.3e-6\nQ,220,3.6e-6\nQ,230,2.5e-6\nQ,240,2.2e-6\nQ,250,1.7e-6\nQ,260,1.4e-6\nQ,270,1.1e-6\nQ,280,1.4e-6\nQ,290,8.3e-7\nQ,300,1.1e-6\nQ,310,5.5e-7\nQ,320,8.3e-7\nQ,330,5.5e-7\nQ,340,1.1e-6\nQ,350,5.5e-7\nQ,360,2.8e-7\nQ,370,5.5e-7\nQ,380,2.8e-7\nQ,390,5.5e-7\nQ,400,2.8e-7\nQ,410,5.5e-7\nQ,420,2.8e-7\nQ,430,5.5e-7\nQ,440,2.8e-7\nQ,450,2.8e-7\nQ,460,5.5e-7\nQ,470,2.8e-7\nQ,480,2.8e-7\nQ,490,2.8e-7\nQ,500,2.8e-7\nT,0,3.5e-2\nT,3,2.5e-2\nT,5,2e-2\nT,8,1.5e-2\nT,10,1.2e-2\nT,15,8e-3\nT,20,4.7e-3\nT,25,3e-3\nT,30,2.2e-3\nT,35,1.7e-3\nT,40,1.26e-3\nT,45,1e-3\nT,50,7.8e-4\nT,55,6.2e-4\nT,60,5e-4\nT,65,4e-4\nT,70,3.2e-4\nT,75,2.6e-4\nT,80,2.1e-4\nT,85,1.7e-4\nT,90,1.4e-4\nT,95,1.1e-4\nT,100,9e-5\nT,105,7.5e-5\nT,110,6.2e-5\nT,115,5.2e-5\nT,120,4.3e-5\nT,125,3.6e-5\nT,130,3e-5\nT,135,2.5e-5\nT,140,2.1e-5\nT,145,1.8e-5\nT,150,1.5e-5\nT,155,1.25e-5\nT,160,1.05e-5\nT,165,9e-6\nT,170,7.8e-6\nT,175,6.8e-6\nT,180,5.8e-6\nT,185,5e-6\nT,190,4.3e-6\nT,195,3.7e-6\nT,200,3.2e-6\nT,205,2.6e-6\nT,210,2.1e-6\nT,215,1.7e-6\nT,220,1.4e-6\nT,225,1.1e-6\nT,230,8e-7\nT,235,2e-7\nT,240,6e-7\nT,245,2e-7\nT,250,4e-7\nT,260,2e-7\nT,270,4e-7\nT,280,2e-7\nT,290,2e-7\nT,300,4e-7\nT,310,2e-7\nT,320,2e-7\nT,330,4e-7\nT,340,2e-7\nT,350,2e-7\nT,360,4e-7\nT,370,2e-7\nT,380,2e-7\nT,390,2e-7\nT,400,4e-7\nT,410,2e-7\nT,420,2e-7\nT,440,2e-7", "format": {"type": "csv", "parse": {"x": "number", "y": "number"}}},
 "layer": [
  {"transform": [{"lookup": "s", "from": {"data": {"values": [{"s": "G", "n": "GPCP"}, {"s": "F", "n": "GFDL"}, {"s": "M", "n": "MPI"}, {"s": "B", "n": "RegCM MPI–CLM"}, {"s": "P", "n": "RegCM GFDL–CLMicup98"}, {"s": "Q", "n": "RegCM GFDL–CLMicup4"}, {"s": "T", "n": "TRMM"}]}, "key": "s", "fields": ["n"]}}],
   "mark": {"type": "circle", "size": 12, "opacity": 1},
   "encoding": {
    "x": {"field": "x", "type": "quantitative", "scale": {"domain": [0, 500], "nice": false}, "axis": {"values": [0,50,100,150,200,250,300,350,400,450,500], "title": "mm/day"}},
    "y": {"field": "y", "type": "quantitative", "scale": {"type": "log", "domain": [1e-8, 1], "nice": false}, "axis": {"values": [1, 0.01, 0.0001, 0.000001, 0.00000001], "labelExpr": "datum.value >= 0.5 ? '10⁰' : datum.value >= 0.005 ? '10⁻²' : datum.value >= 0.00005 ? '10⁻⁴' : datum.value >= 0.0000005 ? '10⁻⁶' : '10⁻⁸'", "title": "frequency N/Ntot", "titlePadding": 19}},
    "color": {"field": "n", "type": "nominal", "scale": {"domain": ["GPCP", "GFDL", "MPI", "RegCM MPI–CLM", "RegCM GFDL–CLMicup98", "RegCM GFDL–CLMicup4", "TRMM"], "range": ["#000000", "#f0e030", "#e82020", "#2a3aa0", "#c040c0", "#50c040", "#80dede"]}, "legend": {"rowPadding": 1, "offset": 2}}
   }},
  {"transform": [{"filter": "datum.x == 0"}],
   "mark": {"type": "point", "opacity": 0},
   "encoding": {
    "x": {"field": "x", "type": "quantitative", "axis": {"orient": "top", "labels": false, "title": null, "values": [0,50,100,150,200,250,300,350,400,450,500], "domainColor": "#555", "tickColor": "#999"}},
    "y": {"field": "y", "type": "quantitative", "axis": {"orient": "right", "labels": false, "title": null, "values": [1, 0.01, 0.0001, 0.000001, 0.00000001], "domainColor": "#555", "tickColor": "#999"}}
   }},
  {"data": {"values": [{"t": "b"}]},
   "mark": {"type": "text", "fontSize": 29, "fontWeight": "bold", "align": "center", "baseline": "alphabetic"},
   "encoding": {"text": {"field": "t"}, "x": {"datum": -83, "axis": null}, "y": {"datum": 1.3, "axis": null}}},
  {"data": {"values": [{"t": "INDIA"}]},
   "mark": {"type": "text", "fontSize": 19, "align": "center", "baseline": "alphabetic"},
   "encoding": {"text": {"field": "t"}, "x": {"datum": 250, "axis": null}, "y": {"datum": 5.2, "axis": null}}}
 ],
 "resolve": {"axis": {"x": "independent", "y": "independent"}}
},
{
 "width": 367, "height": 204,
 "data": {"values": "s,x,y\nG,0,5e-2\nG,3,3e-2\nG,5,1.8e-2\nG,8,1.2e-2\nG,10,9e-3\nG,15,5e-3\nG,20,2.8e-3\nG,25,1.5e-3\nG,30,1e-3\nG,35,6.5e-4\nG,40,4.5e-4\nG,45,2.9e-4\nG,50,1.8e-4\nG,55,1.2e-4\nG,60,9e-5\nG,65,6.5e-5\nG,70,4.5e-5\nG,75,3e-5\nG,78,2e-5\nG,80,1.5e-5\nG,82,1.2e-5\nG,84,9e-6\nG,86,6e-6\nG,88,9e-6\nG,90,6e-6\nG,92,3e-6\nG,95,6e-6\nG,98,3e-6\nG,101,3e-6\nG,104,6e-6\nG,107,3e-6\nG,110,3e-6\nG,113,3e-6\nG,116,3e-6\nH,0,5e-2\nH,3,2.8e-2\nH,5,1.7e-2\nH,8,1.1e-2\nH,10,8.5e-3\nH,15,4.5e-3\nH,20,2.5e-3\nH,25,1.4e-3\nH,30,9e-4\nH,35,5.6e-4\nH,40,3.5e-4\nH,45,2.3e-4\nH,50,1.6e-4\nH,55,1.1e-4\nH,60,8e-5\nH,65,5.5e-5\nH,70,3.5e-5\nH,75,2.2e-5\nH,80,1.6e-5\nH,85,1.3e-5\nH,88,1e-5\nH,90,7e-6\nH,93,5e-6\nH,95,3e-6\nH,98,4.5e-6\nH,100,1.5e-6\nH,103,3e-6\nH,106,1.5e-6\nH,109,3e-6\nH,112,1.5e-6\nH,115,1.5e-6\nH,118,1.5e-6\nH,121,3e-6\nH,124,1.5e-6\nH,127,1.5e-6\nH,130,1.5e-6\nM,0,6e-2\nM,3,3.5e-2\nM,5,2.2e-2\nM,8,1.4e-2\nM,10,1e-2\nM,15,5.2e-3\nM,20,2.8e-3\nM,25,1.6e-3\nM,30,9e-4\nM,35,5.5e-4\nM,40,3.3e-4\nM,45,2.1e-4\nM,50,1.35e-4\nM,55,8.5e-5\nM,60,5.5e-5\nM,63,4e-5\nM,66,3e-5\nM,68,2.3e-5\nM,70,1.95e-5\nM,72,1.5e-5\nM,74,9e-6\nM,76,1.2e-5\nM,78,9e-6\nM,80,6e-6\nM,82,9e-6\nM,84,6e-6\nM,86,3e-6\nM,88,9e-6\nM,90,3e-6\nM,92,6e-6\nM,95,3e-6\nM,98,3e-6\nM,101,3e-6\nB,0,5e-2\nB,3,3e-2\nB,5,1.9e-2\nB,8,1.2e-2\nB,10,9e-3\nB,15,5e-3\nB,20,2.8e-3\nB,25,1.7e-3\nB,30,1.1e-3\nB,35,7.5e-4\nB,40,5.2e-4\nB,45,3.7e-4\nB,50,2.8e-4\nB,55,2.1e-4\nB,60,1.65e-4\nB,65,1.3e-4\nB,70,1e-4\nB,75,7.4e-5\nB,80,6.2e-5\nB,85,5.2e-5\nB,90,4.4e-5\nB,95,3.6e-5\nB,100,3e-5\nB,105,2.6e-5\nB,110,2.2e-5\nB,115,1.9e-5\nB,120,1.7e-5\nB,125,1.45e-5\nB,130,1.25e-5\nB,135,1.05e-5\nB,140,9e-6\nB,145,8e-6\nB,150,6.8e-6\nB,155,6e-6\nB,160,5.3e-6\nB,165,4.6e-6\nB,170,4.2e-6\nB,175,3.7e-6\nB,180,3e-6\nB,185,1.6e-7\nB,190,2.2e-6\nB,195,1.8e-6\nB,200,1.5e-6\nB,205,1.2e-6\nB,210,1e-6\nB,215,6.4e-7\nB,220,8e-7\nB,225,4.8e-7\nB,230,3.2e-7\nB,235,1.6e-7\nB,240,4.8e-7\nB,245,3.2e-7\nB,250,1.6e-7\nB,255,3.2e-7\nB,260,1.6e-7\nB,270,1.6e-7\nB,280,3.2e-7\nB,290,1.6e-7\nB,300,1.6e-7\nB,315,1.6e-7\nK,0,8e-2\nK,3,4e-2\nK,5,2.5e-2\nK,8,1.5e-2\nK,10,1.1e-2\nK,15,6.5e-3\nK,20,4.5e-3\nK,25,2.7e-3\nK,30,1.9e-3\nK,35,1.4e-3\nK,40,1.05e-3\nK,45,8e-4\nK,50,6e-4\nK,55,4.8e-4\nK,60,3.8e-4\nK,65,3e-4\nK,70,2.4e-4\nK,75,1.8e-4\nK,80,1.5e-4\nK,85,1.25e-4\nK,90,1e-4\nK,95,8e-5\nK,100,6.5e-5\nK,105,5.3e-5\nK,110,4.5e-5\nK,115,3.8e-5\nK,120,3.1e-5\nK,125,2.6e-5\nK,130,2.3e-5\nK,135,2e-5\nK,140,1.8e-5\nK,145,1.6e-5\nK,150,1.45e-5\nK,155,1.3e-5\nK,160,1.15e-5\nK,165,1e-5\nK,170,9e-6\nK,175,8e-6\nK,180,7e-6\nK,185,6.5e-6\nK,190,6e-6\nK,195,5.5e-6\nK,200,5e-6\nK,210,4.2e-6\nK,220,3.8e-6\nK,230,3.3e-6\nK,240,2.8e-6\nK,250,2.4e-6\nK,260,2e-6\nK,270,1.7e-6\nK,280,1.3e-6\nK,290,1.1e-6\nK,300,9.6e-7\nK,310,8e-7\nK,320,6.4e-7\nK,330,4.8e-7\nK,340,6.4e-7\nK,345,3.2e-7\nK,350,4.8e-7\nK,355,8e-7\nK,360,3.2e-7\nK,365,4.8e-7\nK,370,3.2e-7\nK,375,1.6e-7\nK,380,3.2e-7\nK,385,1.6e-7\nK,393,6.4e-7\nK,480,1.6e-7\nK,490,1.6e-7\nA,0,4.5e-2\nA,3,2.7e-2\nA,5,1.7e-2\nA,8,1.1e-2\nA,10,8.9e-3\nA,15,4.8e-3\nA,20,2.5e-3\nA,25,1.6e-3\nA,30,1e-3\nA,35,6.5e-4\nA,40,4.5e-4\nA,45,3e-4\nA,50,2.1e-4\nA,55,1.6e-4\nA,60,1.3e-4\nA,65,1e-4\nA,70,8e-5\nA,75,6.3e-5\nA,80,5e-5\nA,85,4e-5\nA,90,3.3e-5\nA,95,2.7e-5\nA,100,2.2e-5\nA,105,1.7e-5\nA,110,1.4e-5\nA,115,1.1e-5\nA,120,9e-6\nA,125,7e-6\nA,130,6e-6\nA,135,5.2e-6\nA,140,4.6e-6\nA,145,4.2e-6\nA,150,3.7e-6\nA,155,3.2e-6\nA,160,2.8e-6\nA,165,2.2e-6\nA,170,1.8e-6\nA,175,1.5e-6\nA,180,1.2e-6\nA,185,1.3e-6\nA,190,9.6e-7\nA,195,8e-7\nA,200,8e-7\nA,205,4.8e-7\nA,210,6.4e-7\nA,215,3.2e-7\nA,220,4.8e-7\nA,225,1.6e-7\nA,230,3.2e-7\nA,235,1.6e-7\nA,240,3.2e-7\nA,250,1.6e-7\nA,260,3.2e-7\nA,270,1.6e-7\nA,280,1.6e-7\nA,290,3.2e-7\nA,300,1.6e-7\nA,310,1.6e-7\nC,0,7e-2\nC,3,3.8e-2\nC,5,2.4e-2\nC,8,1.5e-2\nC,10,1.15e-2\nC,15,6.8e-3\nC,20,4.6e-3\nC,25,2.8e-3\nC,30,2e-3\nC,35,1.45e-3\nC,40,1.1e-3\nC,45,8.2e-4\nC,50,6.3e-4\nC,55,5e-4\nC,60,3.9e-4\nC,65,3.1e-4\nC,70,2.4e-4\nC,75,1.9e-4\nC,80,1.55e-4\nC,85,1.25e-4\nC,90,1e-4\nC,95,8e-5\nC,100,6.3e-5\nC,105,5.4e-5\nC,110,4.6e-5\nC,115,3.9e-5\nC,120,3.3e-5\nC,125,2.8e-5\nC,130,2.4e-5\nC,135,2.1e-5\nC,140,1.8e-5\nC,145,1.55e-5\nC,150,1.4e-5\nC,155,1.25e-5\nC,160,1.1e-5\nC,165,1e-5\nC,170,9e-6\nC,175,8e-6\nC,180,7.2e-6\nC,185,6.5e-6\nC,190,6e-6\nC,195,5.6e-6\nC,200,5.2e-6\nC,205,4.8e-6\nC,210,4.2e-6\nC,215,4.8e-6\nC,220,3.8e-6\nC,225,3.5e-6\nC,230,3.2e-6\nC,235,2.9e-6\nC,240,2.6e-6\nC,245,3e-6\nC,250,2.5e-6\nC,255,2.2e-6\nC,260,2e-6\nC,265,1.8e-6\nC,270,1.6e-6\nC,275,1.5e-6\nC,280,1.3e-6\nC,285,1.1e-6\nC,290,1.3e-6\nC,295,9.6e-7\nC,300,8e-7\nC,305,6.4e-7\nC,310,8e-7\nC,315,4.8e-7\nC,320,6.4e-7\nC,325,4.8e-7\nC,330,3.2e-7\nC,335,6.4e-7\nC,340,3.2e-7\nC,350,1.6e-7\nC,355,3.2e-7\nC,360,1.6e-7\nC,365,3.2e-7\nC,370,1.6e-7\nC,380,3.2e-7\nC,385,1.6e-7\nC,390,1.6e-7\nC,400,1.6e-7\nC,405,3.2e-7\nC,410,1.6e-7\nC,420,3.2e-7\nC,425,1.6e-7\nC,435,1.6e-7\nC,440,3.2e-7\nC,445,1.6e-7\nC,450,3.2e-7\nC,455,1.6e-7\nC,460,3.2e-7\nC,465,1.6e-7\nC,470,3.2e-7\nC,475,1.6e-7\nC,485,1.6e-7\nC,495,1.6e-7\nT,0,3.5e-2\nT,3,2.2e-2\nT,5,1.5e-2\nT,8,1e-2\nT,10,8e-3\nT,15,4.3e-3\nT,20,2.5e-3\nT,25,1.6e-3\nT,30,1e-3\nT,35,7e-4\nT,40,5e-4\nT,45,3.5e-4\nT,50,2.5e-4\nT,55,1.8e-4\nT,60,1.3e-4\nT,65,1e-4\nT,70,7.5e-5\nT,75,5.5e-5\nT,80,4.4e-5\nT,85,3.5e-5\nT,90,2.8e-5\nT,95,2.1e-5\nT,100,1.65e-5\nT,105,1.35e-5\nT,110,1.1e-5\nT,115,9e-6\nT,120,7.2e-6\nT,125,5.9e-6\nT,130,4.6e-6\nT,135,3.7e-6\nT,140,3e-6\nT,145,2.4e-6\nT,150,2e-6\nT,155,1.6e-6\nT,160,1.2e-6\nT,165,1e-6\nT,170,8e-7\nT,175,7e-7\nT,180,4.5e-7\nT,185,3e-7\nT,190,1.5e-7\nT,195,3e-7\nT,200,4.5e-7\nT,205,1.5e-7\nT,210,3e-7\nT,220,1.5e-7\nT,230,3e-7\nT,240,1.5e-7\nT,250,1.5e-7\nT,260,3e-7\nT,270,1.5e-7\nT,280,1.5e-7\nT,290,1.5e-7\nT,300,1.5e-7\nT,310,1.5e-7\nT,320,1.5e-7", "format": {"type": "csv", "parse": {"x": "number", "y": "number"}}},
 "layer": [
  {"transform": [{"lookup": "s", "from": {"data": {"values": [{"s": "G", "n": "GPCP"}, {"s": "H", "n": "HadGEM"}, {"s": "M", "n": "MPI"}, {"s": "B", "n": "RegCM MPI–BATS"}, {"s": "K", "n": "RegCM MPI–CLM"}, {"s": "A", "n": "RegCM HAD–BATS"}, {"s": "C", "n": "RegCM HAD–CLM"}, {"s": "T", "n": "TRMM"}]}, "key": "s", "fields": ["n"]}}],
   "mark": {"type": "circle", "size": 12, "opacity": 1},
   "encoding": {
    "x": {"field": "x", "type": "quantitative", "scale": {"domain": [0, 500], "nice": false}, "axis": {"values": [0,50,100,150,200,250,300,350,400,450,500], "title": "mm/day"}},
    "y": {"field": "y", "type": "quantitative", "scale": {"type": "log", "domain": [1e-8, 1], "nice": false}, "axis": {"values": [1, 0.01, 0.0001, 0.000001, 0.00000001], "labelExpr": "datum.value >= 0.5 ? '10⁰' : datum.value >= 0.005 ? '10⁻²' : datum.value >= 0.00005 ? '10⁻⁴' : datum.value >= 0.0000005 ? '10⁻⁶' : '10⁻⁸'", "title": "frequency N/Ntot", "titlePadding": 11}},
    "color": {"field": "n", "type": "nominal", "scale": {"domain": ["GPCP", "HadGEM", "MPI", "RegCM MPI–BATS", "RegCM MPI–CLM", "RegCM HAD–BATS", "RegCM HAD–CLM", "TRMM"], "range": ["#000000", "#f0e030", "#e82020", "#2a3aa0", "#c040c0", "#70d050", "#086b08", "#80dede"]}, "legend": {"rowPadding": 0.5}}
   }},
  {"transform": [{"filter": "datum.x == 0"}],
   "mark": {"type": "point", "opacity": 0},
   "encoding": {
    "x": {"field": "x", "type": "quantitative", "axis": {"orient": "top", "labels": false, "title": null, "values": [0,50,100,150,200,250,300,350,400,450,500], "domainColor": "#555", "tickColor": "#999"}},
    "y": {"field": "y", "type": "quantitative", "axis": {"orient": "right", "labels": false, "title": null, "values": [1, 0.01, 0.0001, 0.000001, 0.00000001], "domainColor": "#555", "tickColor": "#999"}}
   }},
  {"data": {"values": [{"t": "d"}]},
   "mark": {"type": "text", "fontSize": 29, "fontWeight": "bold", "align": "center", "baseline": "alphabetic"},
   "encoding": {"text": {"field": "t"}, "x": {"datum": -72, "axis": null}, "y": {"datum": 0.91, "axis": null}}},
  {"data": {"values": [{"t": "CA region"}]},
   "mark": {"type": "text", "fontSize": 19, "align": "center", "baseline": "alphabetic"},
   "encoding": {"text": {"field": "t"}, "x": {"datum": 250, "axis": null}, "y": {"datum": 4.2, "axis": null}}}
 ],
 "resolve": {"axis": {"x": "independent", "y": "independent"}}
}
]
}
